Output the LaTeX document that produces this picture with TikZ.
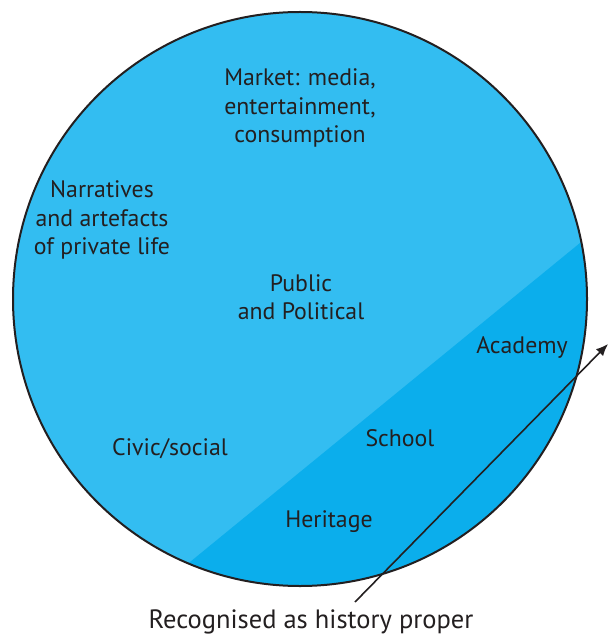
\documentclass[tikz,border=0pt]{standalone}
\usepackage{fontspec}
\setmainfont{PT Sans}
\usetikzlibrary{arrows.meta}
\definecolor{skylight}{RGB}{51,189,241}
\definecolor{skydark}{RGB}{11,174,236}
\definecolor{ink}{RGB}{35,31,32}
\tikzset{
  lbl/.style={align=center,text=ink,font=\fontsize{23.8}{28.5}\selectfont},
  rim/.style={draw=ink,line width=2pt}
}
\begin{document}
\begin{tikzpicture}[x=1pt,y=-1pt]
\useasboundingbox (0,0) rectangle (608,636);
\fill[skylight] (300,299) circle (287);
\begin{scope}
\clip (300,299) circle (287);
\fill[skydark] (-200,881) -- (970,-76) -- (970,881) -- cycle;
\end{scope}
\draw[rim] (300,299) circle (287);
\node[lbl] (market) at (300,108) {Market: media,\\entertainment,\\consumption};
\node[lbl] (private) at (102,220) {Narratives\\and artefacts\\of private life};
\node[lbl] (public) at (301,297) {Public\\and Political};
\node[lbl] (academy) at (522,347) {Academy};
\node[lbl] (civic) at (170,449) {Civic/social};
\node[lbl] (school) at (400,438) {School};
\node[lbl] (heritage) at (329,522) {Heritage};
\node[lbl,font=\fontsize{26.5}{30}\selectfont] (proper) at (311,622) {Recognised as history proper};
\coordinate (tail) at (355,602);
\coordinate (head) at (608,344);
\draw[ink,line width=1.6pt,-{Latex[length=12pt,width=10pt]}] (tail) -- (head);
\end{tikzpicture}
\end{document}
